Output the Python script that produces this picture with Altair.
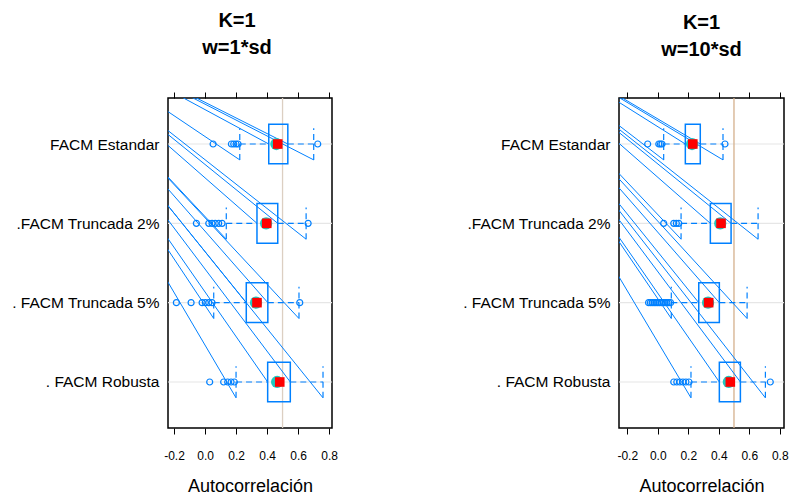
import json
import altair as alt
import pandas as pd

# ---------------- data ----------------
categories = ["FACM Estandar", ".FACM Truncada 2%", ". FACM Truncada 5%", ". FACM Robusta"]
row_pos = [4, 3, 2, 1]          # vertical slot of each category (top = 4)
x_ticks = [-0.2, 0.0, 0.2, 0.4, 0.6, 0.8]
ref_value = [0.5]

# panel 1 : K=1, w=1*sd
w1_q1 = [0.411, 0.335, 0.266, 0.404]
w1_q3 = [0.534, 0.469, 0.405, 0.550]
w1_median = [0.469, 0.398, 0.335, 0.482]
w1_mean = [0.460, 0.394, 0.329, 0.465]
w1_lo = [0.224, 0.137, 0.056, 0.200]
w1_hi = [0.701, 0.652, 0.606, 0.761]
w1_out_estandar = [0.052, 0.170, 0.185, 0.200, 0.213, 0.727]
w1_out_trunc2 = [-0.056, 0.024, 0.045, 0.066, 0.088, 0.110, 0.665]
w1_out_trunc5 = [-0.185, -0.090, -0.019, 0.002, 0.024, 0.045, 0.611]
w1_out_robusta = [0.030, 0.120, 0.146, 0.168, 0.189]

# panel 2 : K=1, w=10*sd
w10_q1 = [0.181, 0.345, 0.269, 0.404]
w10_q3 = [0.279, 0.481, 0.404, 0.542]
w10_median = [0.230, 0.415, 0.334, 0.476]
w10_mean = [0.225, 0.410, 0.330, 0.466]
w10_lo = [0.039, 0.153, 0.089, 0.218]
w10_hi = [0.428, 0.658, 0.586, 0.706]
w10_out_estandar = [-0.066, 0.007, 0.018, 0.028, 0.441]
w10_out_trunc2 = [0.039, 0.105, 0.122, 0.138]
w10_out_trunc5 = [-0.060, -0.048, -0.036, -0.024, -0.012, 0.000, 0.012, 0.024,
                  0.036, 0.048, 0.060, 0.072, 0.084]
w10_out_robusta = [0.105, 0.125, 0.145, 0.165, 0.185, 0.205, 0.738]

# stray rendering strokes: each runs from the device corner (origin) to a box vertex
w1_origin = [-1.310, 5.815]
w10_origin = [-1.342, 5.841]

# ---------------- styling ----------------
BLUE = "#0080ff"
FONT = "Liberation Sans"
BOX_HALF = 0.25
CAP_HALF = 0.2
Y_DOMAIN = [0.42, 4.58]

names_by_pos = [None] * 4
for c, p in zip(categories, row_pos):
    names_by_pos[p - 1] = c
y_label_expr = json.dumps(names_by_pos) + "[datum.value - 1]"
x_label_expr = "datum.value < 0 ? '-' + format(-datum.value, '.1f') : format(datum.value, '.1f')"


def panel(q1, q3, med, mean, lo, hi, outs, origin, x_domain, width, height,
          title_lines, title_dx, title_offset, ref_color):
    xs = alt.Scale(domain=x_domain, nice=False, zero=False)
    ys = alt.Scale(domain=Y_DOMAIN, nice=False, zero=False)

    stats = pd.DataFrame({"cat": categories, "y": row_pos, "q1": q1, "q3": q3,
                          "med": med, "mean": mean, "lo": lo, "hi": hi})
    stats["ylo"] = stats["y"] - BOX_HALF
    stats["yhi"] = stats["y"] + BOX_HALF
    stats["cb"] = stats["y"] - CAP_HALF
    stats["ct"] = stats["y"] + CAP_HALF

    whisk = pd.concat([
        pd.DataFrame({"y": stats["y"], "xa": stats["lo"], "xb": stats["q1"]}),
        pd.DataFrame({"y": stats["y"], "xa": stats["q3"], "xb": stats["hi"]}),
    ])
    caps = pd.concat([
        pd.DataFrame({"x": stats["lo"], "yb": stats["cb"], "yt": stats["ct"]}),
        pd.DataFrame({"x": stats["hi"], "yb": stats["cb"], "yt": stats["ct"]}),
    ])
    strays = pd.concat([
        pd.DataFrame({"x1": stats["lo"], "y1": stats["cb"]}),
        pd.DataFrame({"x1": stats["q1"], "y1": stats["y"]}),
        pd.DataFrame({"x1": stats["q3"], "y1": stats["y"]}),
        pd.DataFrame({"x1": stats["hi"], "y1": stats["cb"]}),
    ])
    strays["x0"] = origin[0]
    strays["y0"] = origin[1]

    out_rows = []
    for p, vals in zip(row_pos, outs):
        for v in vals:
            out_rows.append({"y": p, "v": v})
    out_df = pd.DataFrame(out_rows)

    y_axis = alt.Axis(orient="left", values=[1, 2, 3, 4], labelExpr=y_label_expr,
                      ticks=False, domain=False, grid=False, labelPadding=9,
                      labelFontSize=15.5, labelColor="black", labelFont=FONT)
    bottom_axis = alt.Axis(orient="bottom", values=x_ticks, labelExpr=x_label_expr,
                           tickSize=6, tickColor="black", domain=False, grid=False,
                           labelFontSize=12, labelColor="black", labelPadding=16,
                           labelFont=FONT, title="Autocorrelación", titleFontSize=18,
                           titleFontWeight="normal", titleColor="black",
                           titlePadding=16, titleFont=FONT)
    top_axis = alt.Axis(orient="top", values=x_ticks, labels=False, tickSize=6,
                        tickColor="black", domain=False, grid=False)

    grid = alt.Chart(pd.DataFrame({"y": row_pos})).mark_rule(
        color="#e6e6e6", strokeWidth=1.2).encode(
        y=alt.Y("y:Q", scale=ys, axis=y_axis, title=None))

    ref = alt.Chart(pd.DataFrame({"v": ref_value})).mark_rule(
        color=ref_color, strokeWidth=1.3).encode(
        x=alt.X("v:Q", scale=xs, axis=top_axis, title=None))

    stray = alt.Chart(strays).mark_rule(color=BLUE, strokeWidth=1, clip=True).encode(
        x=alt.X("x0:Q", scale=xs, axis=None),
        y=alt.Y("y0:Q", scale=ys, axis=None),
        x2="x1:Q", y2="y1:Q")

    wh = alt.Chart(whisk).mark_rule(color=BLUE, strokeWidth=1.2, strokeDash=[6, 4]).encode(
        x=alt.X("xa:Q", scale=xs, axis=None),
        x2="xb:Q",
        y=alt.Y("y:Q", scale=ys, axis=None))

    cp = alt.Chart(caps).mark_rule(color=BLUE, strokeWidth=1.2, strokeDash=[6, 4]).encode(
        x=alt.X("x:Q", scale=xs, axis=None),
        y=alt.Y("yb:Q", scale=ys, axis=None),
        y2="yt:Q")

    box = alt.Chart(stats).mark_rect(fillOpacity=0, stroke=BLUE, strokeWidth=1.5).encode(
        x=alt.X("q1:Q", scale=xs, axis=bottom_axis),
        x2="q3:Q",
        y=alt.Y("ylo:Q", scale=ys, axis=None),
        y2="yhi:Q")

    outl = alt.Chart(out_df).mark_point(shape="circle", filled=False, color=BLUE,
                                        size=36, strokeWidth=1.2, opacity=1).encode(
        x=alt.X("v:Q", scale=xs, axis=None),
        y=alt.Y("y:Q", scale=ys, axis=None))

    mn = alt.Chart(stats).mark_point(shape="circle", filled=True, color="#20c8c0",
                                     size=150, opacity=1).encode(
        x=alt.X("mean:Q", scale=xs, axis=None),
        y=alt.Y("y:Q", scale=ys, axis=None))

    md = alt.Chart(stats).mark_square(color="#ff0000", size=92, opacity=1).encode(
        x=alt.X("med:Q", scale=xs, axis=None),
        y=alt.Y("y:Q", scale=ys, axis=None))

    return alt.layer(grid, ref, stray, wh, cp, box, outl, mn, md).resolve_axis(
        x="independent", y="independent").properties(
        width=width, height=height,
        title=alt.TitleParams(text=title_lines, fontSize=20, fontWeight="bold",
                              font=FONT, color="black", lineHeight=27,
                              anchor="middle", dx=title_dx, offset=title_offset))


left = panel(w1_q1, w1_q3, w1_median, w1_mean, w1_lo, w1_hi,
             [w1_out_estandar, w1_out_trunc2, w1_out_trunc5, w1_out_robusta],
             w1_origin, [-0.239, 0.819], 164, 330, ["K=1", "w=1*sd"], -13, 34, "#dccfc2")
right = panel(w10_q1, w10_q3, w10_median, w10_mean, w10_lo, w10_hi,
              [w10_out_estandar, w10_out_trunc2, w10_out_trunc5, w10_out_robusta],
              w10_origin, [-0.254, 0.828], 165, 330, ["K=1", "w=10*sd"], 0, 32, "#d4b08c")

chart = alt.hconcat(left, right, spacing=287, bounds="flush").properties(
    autosize=alt.AutoSizeParams(type="pad"),
    padding={"left": 10, "top": 9, "right": 0, "bottom": 0},
    background="white",
).configure(font=FONT, view=alt.ViewConfig(stroke="#000000", strokeWidth=1.5))

chart.save("out.html", embed_options={"renderer": "svg", "actions": False})
